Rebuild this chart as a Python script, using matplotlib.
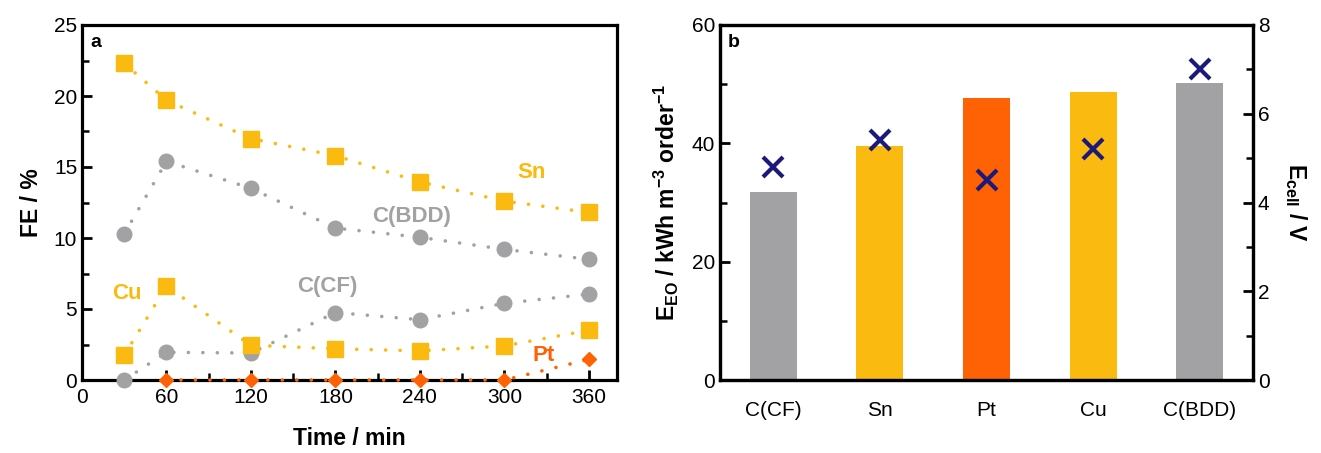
import matplotlib
matplotlib.use("Agg")
import matplotlib.pyplot as plt
from matplotlib.ticker import MultipleLocator

plt.rcParams['font.family'] = ['Liberation Sans', 'DejaVu Sans']
plt.rcParams['mathtext.fontset'] = 'custom'
plt.rcParams['mathtext.rm'] = 'Liberation Sans:bold'
plt.rcParams['mathtext.bf'] = 'Liberation Sans:bold'
plt.rcParams['mathtext.default'] = 'bf'

# ---- Panel a data ----
time_min = [30, 60, 120, 180, 240, 300, 360]
fe_sn = [22.3, 19.7, 17.0, 15.8, 13.95, 12.6, 11.8]
fe_bdd = [10.3, 15.4, 13.5, 10.7, 10.05, 9.2, 8.5]
fe_cf = [0.0, 1.95, 1.9, 4.75, 4.25, 5.4, 6.05]
fe_cu = [1.75, 6.6, 2.45, 2.2, 2.05, 2.4, 3.5]
fe_pt = [0.0, 0.0, 0.0, 0.0, 0.0, 0.0, 1.45]

# ---- Panel b data ----
electrodes = ['C(CF)', 'Sn', 'Pt', 'Cu', 'C(BDD)']
e_eo = [31.8, 39.6, 47.7, 48.6, 50.2]
e_cell = [4.8, 5.4, 4.5, 5.2, 7.0]

GOLD = '#FBBA0F'
GRAY = '#A2A2A5'
ORANGE = '#FF6205'
NAVY = '#1B1A7A'
bar_colors = [GRAY, GOLD, ORANGE, GOLD, GRAY]

fig = plt.figure(figsize=(13.21, 4.53), dpi=100)
ax1 = fig.add_axes([82/1321, 73/453, 535/1321, 355/453])
ax2 = fig.add_axes([720/1321, 73/453, 533/1321, 355/453])

TICK_FS = 15
LABEL_FS = 16.5
ANN_FS = 16

def style(ax):
    for s in ax.spines.values():
        s.set_linewidth(2.3)
    ax.tick_params(which='major', direction='in', length=7, width=2, labelsize=TICK_FS)
    ax.tick_params(which='minor', direction='in', length=5, width=1.8)

DOT = (0, (0.01, 4.0))
line_kw = dict(lw=2.6, dash_capstyle='round', zorder=3)

# Panel a
ax1.plot(time_min, fe_bdd, linestyle=DOT, color=GRAY, marker='o', ms=10.5, mec=GRAY, **line_kw)
ax1.plot(time_min, fe_cf, linestyle=DOT, color=GRAY, marker='o', ms=10.5, mec=GRAY, clip_on=False, **line_kw)
ax1.plot(time_min, fe_sn, linestyle=DOT, color=GOLD, marker='s', ms=11, mec=GOLD, **line_kw)
ax1.plot(time_min, fe_cu, linestyle=DOT, color=GOLD, marker='s', ms=11, mec=GOLD, **line_kw)
ax1.plot(time_min[1:], fe_pt[1:], linestyle=DOT, color=ORANGE, marker='D', ms=7, mec=ORANGE,
         clip_on=False, lw=2.6, dash_capstyle='round', zorder=5)
ax1.set_xlim(0, 380)
ax1.set_ylim(0, 25)
ax1.set_xticks([0, 60, 120, 180, 240, 300, 360])
ax1.xaxis.set_minor_locator(MultipleLocator(30))
ax1.yaxis.set_major_locator(MultipleLocator(5))
ax1.yaxis.set_minor_locator(MultipleLocator(2.5))
style(ax1)
ax1.tick_params(axis='x', which='major', pad=6)
ax1.set_xlabel('Time / min', fontsize=LABEL_FS, fontweight='bold', labelpad=14)
ax1.set_ylabel('FE / %', fontsize=LABEL_FS, fontweight='bold', labelpad=8)
ax1.text(0.015, 0.975, 'a', transform=ax1.transAxes, fontsize=14, fontweight='bold', va='top')
ax1.text(319, 14.6, 'Sn', color=GOLD, fontsize=ANN_FS, fontweight='bold', ha='center', va='center')
ax1.text(234, 11.5, 'C(BDD)', color=GRAY, fontsize=ANN_FS, fontweight='bold', ha='center', va='center')
ax1.text(174, 6.6, 'C(CF)', color=GRAY, fontsize=ANN_FS, fontweight='bold', ha='center', va='center')
ax1.text(32, 6.1, 'Cu', color=GOLD, fontsize=ANN_FS, fontweight='bold', ha='center', va='center')
ax1.text(328, 1.7, 'Pt', color=ORANGE, fontsize=ANN_FS, fontweight='bold', ha='center', va='center')

# Panel b
x = list(range(len(electrodes)))
ax2.bar(x, e_eo, width=0.44, color=bar_colors, zorder=2)
ax2.set_xlim(-0.5, 4.5)
ax2.set_ylim(0, 60)
ax2.set_xticks(x)
ax2.set_xticklabels(electrodes)
ax2.yaxis.set_major_locator(MultipleLocator(20))
ax2.yaxis.set_minor_locator(MultipleLocator(10))
style(ax2)
ax2.tick_params(axis='x', which='both', length=0, pad=15)
ax2.set_ylabel(r'E$_{EO}$ / kWh m$^{-3}$ order$^{-1}$', fontsize=LABEL_FS, fontweight='bold', labelpad=8)
ax2.text(0.015, 0.975, 'b', transform=ax2.transAxes, fontsize=14, fontweight='bold', va='top')

ax3 = ax2.twinx()
ax3.plot(x, e_cell, 'x', color=NAVY, ms=14, mew=3, zorder=5)
ax3.set_ylim(0, 8)
ax3.yaxis.set_major_locator(MultipleLocator(2))
ax3.yaxis.set_minor_locator(MultipleLocator(1))
style(ax3)
ax3.set_ylabel(r'E$_{cell}$ / V', fontsize=LABEL_FS, fontweight='bold', rotation=-90, labelpad=28)

fig.savefig('out.png', dpi=100)
